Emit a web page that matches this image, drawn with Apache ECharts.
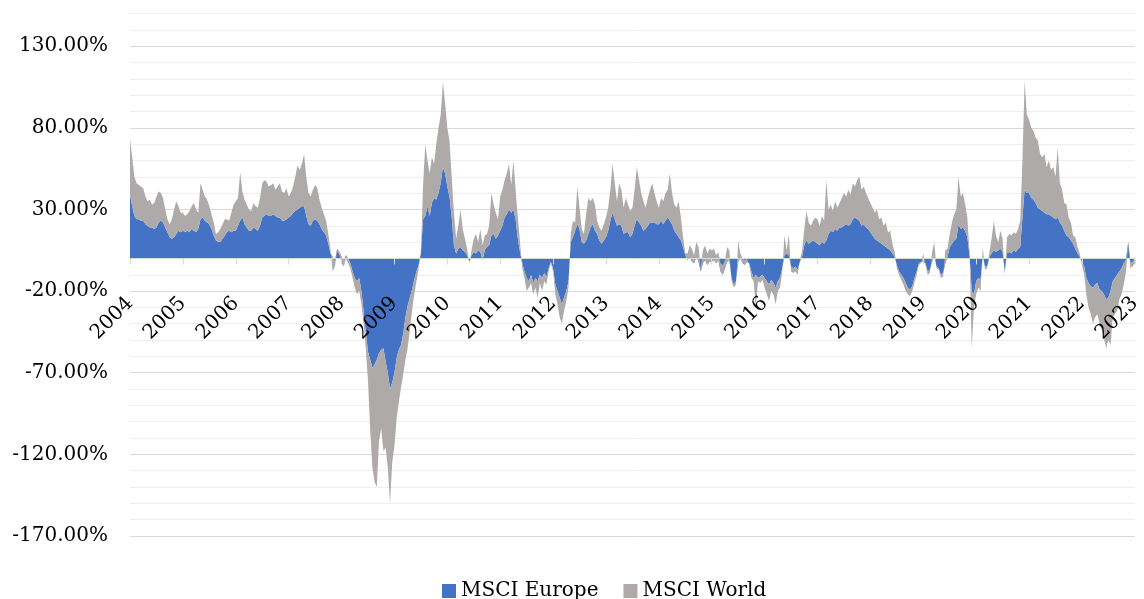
<!DOCTYPE html>
<html><head><meta charset="utf-8">
<script src="https://cdn.jsdelivr.net/npm/echarts@6/dist/echarts.min.js"></script>
<style>html,body{margin:0;padding:0;background:#fff}#c{width:1144px;height:599px}</style>
</head><body><div id="c"></div>
<script>
// Semi-monthly readings (24 per year), values in %
const years = [2004,2005,2006,2007,2008,2009,2010,2011,2012,2013,2014,2015,2016,2017,2018,2019,2020,2021,2022,2023];

const eu2004 = [39,32,26,24,24,23,23,21,20,19,19,18,19,22,23,22,19,16,13,12,13,15,17,16];
const wd2004 = [34,30,24,22,21,21,20,17,15,17,14,16,19,19,17,15,11,8,8,12,17,20,15,12];
const eu2005 = [17,16,17,16,18,17,16,18,24,25,23,22,21,18,14,11,10,10,12,14,16,17,16,17];
const wd2005 = [11,10,10,13,14,17,14,10,22,17,15,14,11,9,8,4,6,8,9,10,8,6,12,16];
const eu2006 = [17,20,23,25,21,19,17,17,19,18,17,20,25,26,27,26,26,27,26,25,25,23,23,24];
const wd2006 = [18,17,30,16,15,14,13,12,15,14,14,17,21,22,20,18,19,19,16,19,21,18,17,19];
const eu2007 = [25,26,28,29,30,31,32,32,26,21,20,23,24,23,21,18,16,14,9,3,1,-2,6,4];
const wd2007 = [13,14,16,21,27,23,26,32,24,19,18,19,21,20,15,13,11,9,6,2,-9,-3,-2,-2];
const eu2008 = [1,-1,2,0,-3,-8,-12,-14,-12,-20,-32,-45,-57,-62,-67,-65,-62,-58,-56,-55,-63,-70,-80,-76];
const wd2008 = [-4,-4,-2,-3,-3,-4,-6,-8,-8,-8,-8,-10,-18,-43,-61,-72,-78,-54,-48,-63,-53,-58,-70,-49];
const eu2009 = [-70,-61,-56,-53,-46,-36,-29,-24,-19,-13,-8,-4,3,24,26,32,26,34,37,36,40,46,56,52];
const wd2009 = [-45,-37,-32,-26,-25,-26,-26,-20,-13,-9,-6,-2,1,21,44,28,26,28,21,34,40,42,52,43];
const eu2010 = [44,38,25,8,3,6,7,5,4,2,-2,2,4,3,5,4,-1,5,7,8,14,15,12,14];
const wd2010 = [36,34,25,20,9,14,23,13,8,4,-1,3,8,12,5,14,9,9,8,12,26,18,16,10];
const eu2011 = [17,20,25,27,30,28,30,24,12,4,-3,-8,-12,-14,-10,-15,-12,-14,-10,-12,-9,-11,-6,-2];
const wd2011 = [21,22,23,25,28,17,30,18,13,6,-3,-4,-8,-4,-5,-7,-6,-10,-5,-8,-5,-5,-2,-1];
const eu2012 = [-6,-16,-20,-24,-28,-24,-20,-14,10,13,17,21,18,10,9,11,15,19,21,17,15,11,9,11];
const wd2012 = [-2,-6,-8,-12,-12,-8,-6,-4,5,10,5,23,13,8,6,16,22,16,16,16,8,8,8,10];
const eu2013 = [13,17,23,28,24,20,21,20,15,16,16,13,15,20,24,22,20,17,18,20,22,22,22,21];
const wd2013 = [12,14,19,30,22,15,25,22,16,21,17,16,16,22,32,26,20,18,13,17,20,24,18,14];
const eu2014 = [21,23,21,23,25,23,21,17,15,13,11,7,2,-1,1,-2,-3,1,-2,-8,-3,-1,-4,-2];
const wd2014 = [10,14,14,17,17,29,19,16,16,22,14,6,1,4,7,8,5,9,9,2,8,9,7,8];
const eu2015 = [-2,-1,-3,-1,-8,-10,-6,-2,-1,-12,-16,-14,-2,0,-3,-4,-2,-3,-8,-12,-10,-12,-11,-10];
const wd2015 = [7,7,5,5,5,6,5,9,6,-2,-2,-2,13,3,3,3,2,-1,-4,-2,-20,-2,-4,-3];
const eu2016 = [-12,-14,-16,-13,-15,-18,-14,-12,-6,2,3,2,-5,-6,-5,-7,-2,1,8,11,9,10,11,10];
const wd2016 = [-6,-8,-10,-7,-7,-10,-6,-6,-2,12,2,13,-3,-3,-3,-3,1,4,10,18,13,10,12,15];
const eu2017 = [9,8,10,9,11,15,17,16,18,17,19,19,20,21,20,21,24,25,24,23,20,21,19,18];
const wd2017 = [15,12,16,14,37,15,16,13,17,14,15,18,20,17,22,18,22,19,24,27,22,23,21,19];
const eu2018 = [16,14,12,11,10,9,8,7,6,5,3,1,-4,-8,-10,-12,-15,-18,-19,-17,-12,-8,-3,-2];
const wd2018 = [18,17,16,19,14,16,12,15,10,12,6,3,-2,-2,-3,-4,-5,-4,-4,-3,-3,-2,-1,-1];
const eu2019 = [-2,-3,-8,-7,-2,2,-5,-6,-10,-9,-3,1,7,9,11,12,21,18,19,17,13,2,-20,-22];
const wd2019 = [5,-1,-2,-2,6,8,-1,-1,-2,-2,8,5,8,13,16,18,29,20,21,16,12,2,-35,-8];
const eu2020 = [-14,-12,-13,2,-5,-5,1,3,5,4,5,6,4,-8,3,4,3,5,4,6,7,25,42,40];
const wd2020 = [-8,-6,-7,5,-2,-1,3,9,18,10,5,11,8,-2,10,11,11,11,11,12,16,35,67,48];
const eu2021 = [40,37,36,34,31,30,29,28,27,27,26,25,24,25,22,20,17,14,13,11,9,6,3,1];
const wd2021 = [45,43,42,40,41,34,33,36,29,33,28,31,26,43,24,22,17,19,12,11,5,7,4,2];
const eu2022 = [-2,-5,-12,-15,-17,-18,-16,-15,-19,-20,-22,-25,-24,-20,-14,-12,-10,-8,-6,-3,-1,10,-3,-2];
const wd2022 = [-2,-5,-10,-15,-17,-22,-20,-19,-21,-24,-27,-30,-26,-33,-22,-22,-22,-17,-16,-13,-7,-2,-3,-3];
const eu2023 = [-1];
const wd2023 = [-2];

const yLabelTicks = [-170,-120,-70,-20,30,80,130];

const europeYears = [eu2004,eu2005,eu2006,eu2007,eu2008,eu2009,eu2010,eu2011,eu2012,eu2013,eu2014,eu2015,eu2016,eu2017,eu2018,eu2019,eu2020,eu2021,eu2022,eu2023];
const worldYears  = [wd2004,wd2005,wd2006,wd2007,wd2008,wd2009,wd2010,wd2011,wd2012,wd2013,wd2014,wd2015,wd2016,wd2017,wd2018,wd2019,wd2020,wd2021,wd2022,wd2023];

const categories = [];
const yearStart = new Set();
years.forEach((y, yi) => {
  europeYears[yi].forEach((_, k) => {
    if (k === 0) yearStart.add(categories.length);
    categories.push(k === 0 ? String(y) : y + '-' + k);
  });
});
const europe = [].concat(...europeYears);
const world = [].concat(...worldYears);

const FONT = 'DejaVu Serif';
const Y_MIN = -170, Y_MAX = 150;
const GRID_TOP = 13.5, GRID_BOTTOM = 63, H = 599;
const plotH = H - GRID_TOP - GRID_BOTTOM;
// distance from grid bottom up to the zero line
const zeroOffset = plotH * (0 - Y_MIN) / (Y_MAX - Y_MIN);

const chart = echarts.init(document.getElementById('c'), null, {renderer: 'canvas'});
chart.setOption({
  animation: false,
  backgroundColor: '#ffffff',
  grid: {left: 130, right: 0, top: GRID_TOP, bottom: GRID_BOTTOM},
  legend: {
    top: 576, left: 437, icon: 'rect', itemWidth: 14, itemHeight: 14, itemGap: 25,
    textStyle: {fontFamily: FONT, fontSize: 20, color: '#000'},
    data: ['MSCI Europe', 'MSCI World']
  },
  xAxis: {
    type: 'category', boundaryGap: false, data: categories, z: 10,
    position: 'bottom', offset: -zeroOffset,
    axisLine: {onZero: false, lineStyle: {color: '#D9D9D9', width: 1}},
    axisTick: {show: true, interval: (i) => yearStart.has(i), length: 6, lineStyle: {color: '#D9D9D9'}},
    axisLabel: {
      interval: (i) => yearStart.has(i), rotate: 45, margin: 42, hideOverlap: false,
      fontFamily: FONT, fontSize: 20, color: '#000',
      formatter: (v) => v.split('-')[0]
    },
    splitLine: {show: false}
  },
  yAxis: {
    type: 'value', min: Y_MIN, max: Y_MAX, interval: 10,
    axisLine: {show: false}, axisTick: {show: false},
    axisLabel: {
      margin: 22, fontFamily: FONT, fontSize: 20, color: '#000',
      formatter: (v) => yLabelTicks.includes(Math.round(v)) ? v.toFixed(2) + '%' : ''
    },
    splitLine: {show: true, lineStyle: {width: 1, color: ['#D9D9D9','#EEEEEE','#EEEEEE','#EEEEEE','#EEEEEE']}}
  },
  series: [
    {name: 'MSCI Europe', type: 'line', stack: 'total', stackStrategy: 'all', data: europe,
     symbol: 'none', showSymbol: false, lineStyle: {width: 0}, itemStyle: {color: '#4472C4'},
     areaStyle: {color: '#4472C4', opacity: 1}},
    {name: 'MSCI World', type: 'line', stack: 'total', stackStrategy: 'all', data: world,
     symbol: 'none', showSymbol: false, lineStyle: {width: 0}, itemStyle: {color: '#AEAAAA'},
     areaStyle: {color: '#AEAAAA', opacity: 1}}
  ]
});
</script></body></html>
